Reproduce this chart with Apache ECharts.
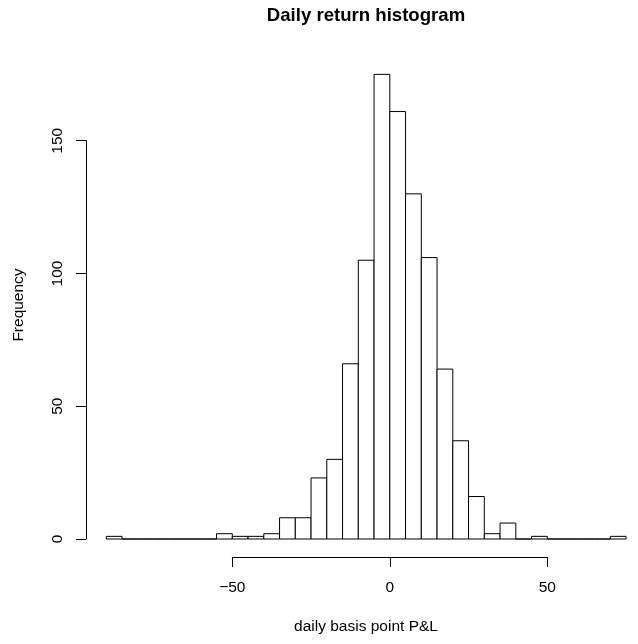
<!DOCTYPE html>
<html>
<head>
<meta charset="utf-8">
<title>Daily return histogram</title>
<script src="https://cdn.jsdelivr.net/npm/echarts@6/dist/echarts.min.js"></script>
<style>
  html, body { margin: 0; padding: 0; background: #fff; }
  #main { width: 638px; height: 644px; }
</style>
</head>
<body>
<div id="main"></div>
<script>
// bin edges (bp), width 5
var breaks = [-90, -85, -80, -75, -70, -65, -60, -55, -50, -45, -40, -35, -30, -25, -20, -15, -10, -5,
              0, 5, 10, 15, 20, 25, 30, 35, 40, 45, 50, 55, 60, 65, 70, 75];
// counts per bin
var counts = [1, 0, 0, 0, 0, 0, 0, 2, 1, 1, 2, 8, 8, 23, 30, 66, 105, 175,
              161, 130, 106, 64, 37, 16, 2, 6, 0, 1, 0, 0, 0, 0, 1];
var xTicks = [-50, 0, 50];
var yTicks = [0, 50, 100, 150];

var FONT = '"Liberation Sans", Arial, Helvetica, sans-serif';

var histData = [];
for (var i = 0; i < counts.length; i++) {
    histData.push([breaks[i], breaks[i + 1], counts[i]]);
}

var chart = echarts.init(document.getElementById('main'), null, { renderer: 'canvas' });

var option = {
    backgroundColor: '#ffffff',
    animation: false,
    grid: [
        // bars
        { left: 106.3, top: 61.1, width: 519.75, height: 477.9 },
        // y axis (0..150 only, like R)
        { left: 86, top: 140.7, width: 10, height: 398.3 },
        // x axis (-50..50 only)
        { left: 232.3, top: 550, width: 315, height: 7 }
    ],
    xAxis: [
        { gridIndex: 0, type: 'value', min: breaks[0], max: breaks[breaks.length - 1], show: false },
        { gridIndex: 1, type: 'value', min: 0, max: 1, show: false },
        {
            gridIndex: 2, type: 'value', position: 'bottom',
            min: xTicks[0], max: xTicks[xTicks.length - 1], interval: 50,
            splitLine: { show: false },
            axisLine: { show: true, lineStyle: { color: '#000', width: 1 } },
            axisTick: { show: true, length: 10, lineStyle: { color: '#000', width: 1 } },
            axisLabel: {
                show: true, margin: 23, color: '#000', fontSize: 15.5, fontFamily: FONT,
                formatter: function (v) { return String(v).replace('-', '\u2212'); }
            }
        }
    ],
    yAxis: [
        { gridIndex: 0, type: 'value', min: 0, max: 180, show: false },
        {
            gridIndex: 1, type: 'value', position: 'left',
            min: yTicks[0], max: yTicks[yTicks.length - 1], interval: 50,
            splitLine: { show: false },
            axisLine: { show: true, lineStyle: { color: '#000', width: 1 } },
            axisTick: { show: true, length: 10, lineStyle: { color: '#000', width: 1 } },
            axisLabel: { show: true, rotate: 90, margin: 20, color: '#000', fontSize: 15.5, fontFamily: FONT }
        },
        { gridIndex: 2, type: 'value', min: 0, max: 1, show: false }
    ],
    graphic: [
        {
            type: 'text', x: 366, y: 16,
            style: { text: 'Daily return histogram', align: 'center', verticalAlign: 'middle',
                     font: 'bold 18.6px ' + FONT, fill: '#000' }
        },
        {
            type: 'text', x: 366, y: 626.5,
            style: { text: 'daily basis point P&L', align: 'center', verticalAlign: 'middle',
                     font: '15.5px ' + FONT, fill: '#000' }
        },
        {
            type: 'text', x: 19, y: 305, rotation: Math.PI / 2,
            style: { text: 'Frequency', align: 'center', verticalAlign: 'middle',
                     font: '15.5px ' + FONT, fill: '#000' }
        }
    ],
    series: [
        {
            type: 'custom',
            xAxisIndex: 0,
            yAxisIndex: 0,
            clip: false,
            encode: { x: [0, 1], y: 2 },
            data: histData,
            renderItem: function (params, api) {
                var p0 = api.coord([api.value(0), api.value(2)]);
                var p1 = api.coord([api.value(1), 0]);
                return {
                    type: 'rect',
                    shape: { x: p0[0], y: p0[1], width: p1[0] - p0[0], height: p1[1] - p0[1] },
                    style: { fill: '#fff', stroke: '#000', lineWidth: 1 }
                };
            }
        }
    ]
};

chart.setOption(option);
</script>
</body>
</html>
